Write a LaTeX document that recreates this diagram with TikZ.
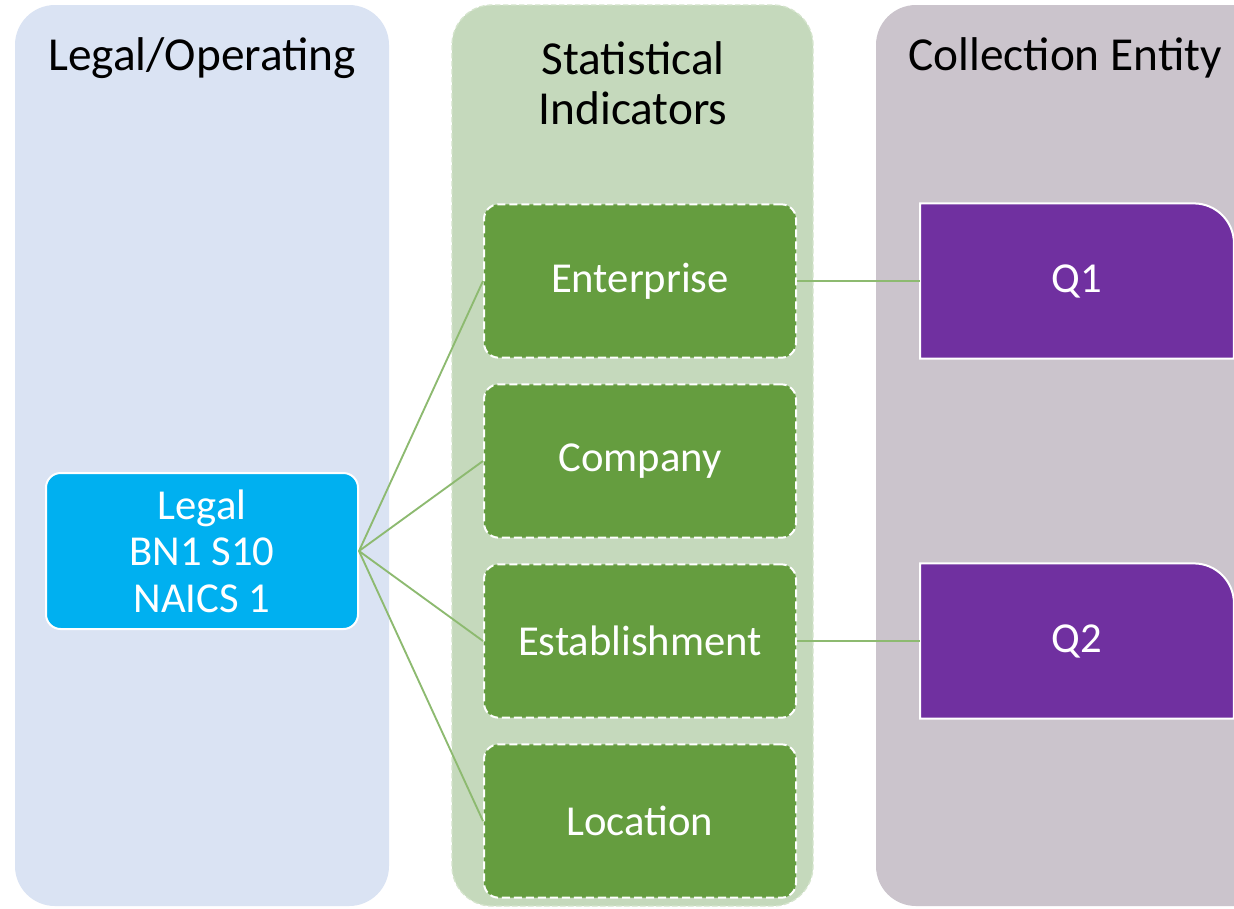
\documentclass[tikz,border=0pt]{standalone}
\usepackage{fontspec}
\setmainfont{Carlito}
\usetikzlibrary{positioning}
\definecolor{legalpanel}{RGB}{218,227,243}
\definecolor{statpanel}{RGB}{197,217,188}
\definecolor{statedge}{RGB}{212,228,204}
\definecolor{collpanel}{RGB}{203,196,204}
\definecolor{statgreen}{RGB}{101,157,63}
\definecolor{legalblue}{RGB}{0,176,240}
\definecolor{qpurple}{RGB}{112,48,160}
\definecolor{linkgreen}{RGB}{141,186,112}
\pgfdeclarelayer{back}
\pgfdeclarelayer{mid}
\pgfsetlayers{back,mid,main}
\tikzset{
    paneltitle/.style={align=center, font=\fontsize{35.5}{37.5}\selectfont},
    statbox/.style={draw=white, line width=1.5pt, dash pattern=on 6pt off 3pt,
            fill=statgreen, rounded corners=11pt, minimum width=234pt,
            minimum height=115pt, text=white, font=\fontsize{32}{35}\selectfont},
    legalbox/.style={draw=white, line width=1.5pt, fill=legalblue,
            rounded corners=11pt, minimum width=234pt, minimum height=117pt,
            text=white, align=center, font=\fontsize{32}{35}\selectfont},
    qbox/.style={minimum width=235pt, minimum height=116pt, text=white,
            font=\fontsize{32}{35}\selectfont},
    qfill/.style={fill=qpurple, draw=white, line width=1.5pt},
    link/.style={draw=linkgreen, line width=1.4pt},
}
\begin{document}
\begin{tikzpicture}[x=0.75pt, y=-0.75pt]
        \clip (0, 0) rectangle (1234, 908);
        %panels
        \begin{pgfonlayer}{back}
            \fill[white] (0, 0) rectangle (1234, 908);
            \fill[legalpanel, rounded corners=30pt] (15, 5) rectangle (389, 906);
            \draw[statedge, fill=statpanel, line width=1pt, dash pattern=on 4pt off 2pt,
                rounded corners=30pt] (452, 5) rectangle (813, 906);
            \fill[collpanel, rounded corners=30pt] (876, 5) rectangle (1290, 906);
        \end{pgfonlayer}
        %panel titles
        \node[paneltitle] (tlegal) at (202, 58) {Legal/Operating};
        \node[paneltitle] (tstat) at (633, 83) {Statistical\\Indicators};
        \node[paneltitle] (tcoll) at (1065, 58) {Collection Entity};
        %statistical units
        \node[statbox] (ent) at (640, 281) {Enterprise};
        \node[statbox] (comp) at (640, 461) {Company};
        \node[statbox] (estab) at (640, 641) {Establishment};
        \node[statbox] (loc) at (640, 821) {Location};
        %legal unit
        \node[legalbox] (legal) at (202, 551) {Legal\\BN1 S10\\NAICS 1};
        %collection entities
        \node[qbox] (q1) at (1077, 281) {Q1};
        \node[qbox] (q2) at (1077, 641) {Q2};
        \begin{pgfonlayer}{mid}
            \foreach \q in {q1, q2}
                \draw[qfill] (\q.south west) -- (\q.north west)
                    [rounded corners=30pt] -- (\q.north east)
                    [sharp corners] -- (\q.south east) -- cycle;
        \end{pgfonlayer}
        %links
        \foreach \s in {ent, comp, estab, loc}
            \draw[link] (legal.east) -- (\s.west);
        \draw[link] (ent.east) -- (q1.west);
        \draw[link] (estab.east) -- (q2.west);
    \end{tikzpicture}
\end{document}
